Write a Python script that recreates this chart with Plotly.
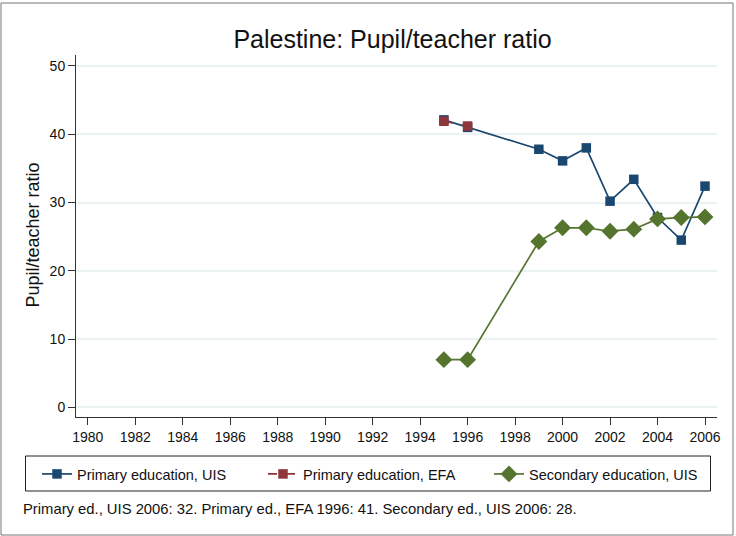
import plotly.graph_objects as go

years_uis = [1995, 1996, 1999, 2000, 2001, 2002, 2003, 2004, 2005, 2006]
primary_uis = [42.1, 41.0, 37.8, 36.1, 38.0, 30.2, 33.4, 27.8, 24.5, 32.4]
years_efa = [1995, 1996]
primary_efa = [41.9, 41.2]
years_sec = [1995, 1996, 1999, 2000, 2001, 2002, 2003, 2004, 2005, 2006]
secondary_uis = [7.0, 7.0, 24.3, 26.3, 26.3, 25.8, 26.1, 27.6, 27.8, 27.9]
x_ticks = list(range(1980, 2007, 2))
y_ticks = [0, 10, 20, 30, 40, 50]
title_text = "Palestine: Pupil/teacher ratio"
y_title = "Pupil/teacher ratio"
note = "Primary ed., UIS 2006: 32. Primary ed., EFA 1996: 41. Secondary ed., UIS 2006: 28."

NAVY = "#1a476f"
MAROON = "#90353b"
GREEN = "#55752f"

fig = go.Figure()
fig.add_trace(go.Scatter(x=years_uis, y=primary_uis, mode="lines+markers",
                         name="Primary education, UIS",
                         line=dict(color=NAVY, width=1.7),
                         marker=dict(symbol="square", size=9.5, color=NAVY)))
fig.add_trace(go.Scatter(x=years_efa, y=primary_efa, mode="lines+markers",
                         name="Primary education, EFA",
                         line=dict(color=MAROON, width=1.7, dash="dash"),
                         marker=dict(symbol="square", size=9.5, color=MAROON)))
fig.add_trace(go.Scatter(x=years_sec, y=secondary_uis, mode="lines+markers",
                         name="Secondary education, UIS",
                         line=dict(color=GREEN, width=1.7),
                         marker=dict(symbol="diamond", size=13, color=GREEN)))

L, R, T, B = 76, 717, 55, 417
W, H = 736, 536
pw, ph = R - L, B - T

def px(x):
    return (x - L) / pw

def py(y):
    return (B - y) / ph

FONT = "Liberation Sans, Arial, Helvetica, sans-serif"

fig.update_layout(
    width=W, height=H,
    margin=dict(l=L, r=W - R, t=T, b=H - B, pad=0),
    paper_bgcolor="white", plot_bgcolor="white",
    font=dict(family=FONT, color="#111111", size=14),
    title=dict(text=title_text, x=392.5 / W, xanchor="center",
               y=1 - 39.5 / H, yanchor="middle", font=dict(size=25, color="#111111")),
    showlegend=True,
    legend=dict(orientation="h", x=px(37), xanchor="left", y=py(474), yanchor="middle",
                bgcolor="rgba(0,0,0,0)", font=dict(size=14.5),
                entrywidth=181, entrywidthmode="pixels", tracegroupgap=0),
    xaxis=dict(range=[1979.503, 2006.505], tickvals=x_ticks, ticks="outside", ticklen=7,
               tickcolor="#333333", showline=True, linecolor="#333333", linewidth=1,
               showgrid=False, zeroline=False, tickfont=dict(size=14)),
    yaxis=dict(range=[-1.4, 51.6], tickvals=y_ticks, ticks="outside", ticklen=7,
               tickcolor="#333333", showline=True, linecolor="#333333", linewidth=1,
               showgrid=True, gridcolor="#eaf2f3", gridwidth=1.5, zeroline=False,
               tickfont=dict(size=14)),
    shapes=[
        dict(type="rect", xref="paper", yref="paper",
             x0=px(25.5), x1=px(710.5), y0=py(491), y1=py(456),
             line=dict(color="#222222", width=1), fillcolor="rgba(0,0,0,0)"),
        dict(type="rect", xref="paper", yref="paper",
             x0=px(1), x1=px(733), y0=py(535), y1=py(3),
             line=dict(color="#777777", width=1), fillcolor="rgba(0,0,0,0)"),
    ],
    annotations=[
        dict(text=y_title, xref="paper", yref="paper", x=px(32), y=py(235.5),
             xanchor="center", yanchor="middle", textangle=-90, showarrow=False,
             font=dict(size=18)),
        dict(text=note, xref="paper", yref="paper", x=px(21), y=py(509),
             xanchor="left", yanchor="middle", showarrow=False, font=dict(size=14.8)),
    ],
)

fig.write_html("out.html", config={"displayModeBar": False},
               post_script="document.body.style.margin='0px';")
